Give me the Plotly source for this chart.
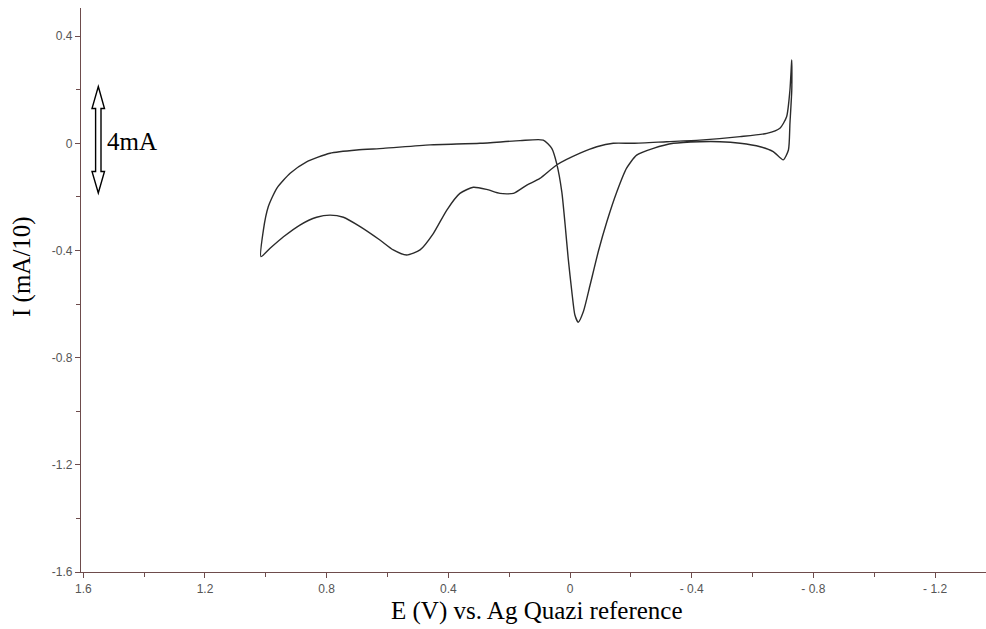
import plotly.graph_objects as go

# Cyclic voltammogram (one closed loop)
E_V = [1.016, 1.008, 0.992, 0.964, 0.920, 0.866, 0.789, 0.701, 0.614, 0.460,
       0.296, 0.164, 0.088, 0.060, 0.044, 0.027, 0.016, 0.006, -0.006, -0.016,
       -0.027, -0.044, -0.066, -0.093, -0.121, -0.154, -0.186, -0.219, -0.274, -0.340,
       -0.427, -0.493, -0.559, -0.625, -0.668, -0.701, -0.718, -0.723, -0.729, -0.729,
       -0.723, -0.712, -0.690, -0.647, -0.559, -0.427, -0.318, -0.208, -0.142, -0.088,
       -0.033, 0.044, 0.099, 0.142, 0.186, 0.230, 0.274, 0.318, 0.362, 0.405,
       0.449, 0.493, 0.537, 0.581, 0.625, 0.690, 0.745, 0.789, 0.833, 0.888,
       0.942, 0.986, 1.016]
I_mA10 = [-0.423, -0.324, -0.237, -0.168, -0.112, -0.069, -0.037, -0.025, -0.019, -0.006,
          0.000, 0.010, 0.012, -0.019, -0.075, -0.181, -0.305, -0.429, -0.554, -0.641,
          -0.668, -0.628, -0.529, -0.404, -0.293, -0.181, -0.093, -0.044, -0.019, 0.000,
          0.006, 0.006, 0.000, -0.013, -0.031, -0.062, -0.025, 0.075, 0.199, 0.311,
          0.199, 0.099, 0.056, 0.037, 0.025, 0.012, 0.006, 0.000, 0.000, -0.013,
          -0.037, -0.081, -0.131, -0.156, -0.187, -0.187, -0.172, -0.164, -0.187, -0.249,
          -0.336, -0.398, -0.417, -0.398, -0.361, -0.311, -0.276, -0.268, -0.276, -0.305,
          -0.349, -0.392, -0.423]

x_tickvals = [1.6, 1.2, 0.8, 0.4, 0.0, -0.4, -0.8, -1.2]
x_ticktext = ["1.6", "1.2", "0.8", "0.4", "0", "- 0.4", "- 0.8", "- 1.2"]
y_tickvals = [0.4, 0.0, -0.4, -0.8, -1.2, -1.6]
y_ticktext = ["0.4", "0", "-0.4", "-0.8", "-1.2", "-1.6"]

AX = "#6e4c4c"
TICKFONT = dict(family="Liberation Sans, Arial", size=12, color="#555555")
SERIF = "Liberation Serif, Times New Roman"

fig = go.Figure()
fig.add_trace(go.Scatter(x=E_V, y=I_mA10, mode="lines",
                         line=dict(color="#2b2b2b", width=1.4, shape="spline", smoothing=0.6),
                         hoverinfo="skip", showlegend=False))

XR = [1.6076, -1.3675]
YR = [-1.6, 0.505]

fig.update_layout(
    width=986, height=629,
    margin=dict(l=81, r=0, t=8, b=57),
    paper_bgcolor="white", plot_bgcolor="white",
    showlegend=False,
    xaxis=dict(range=XR, showgrid=False, zeroline=False, showline=True, linecolor=AX, linewidth=1.2,
               ticks="outside", ticklen=5, tickcolor=AX, tickwidth=1.2,
               tickvals=x_tickvals, ticktext=x_ticktext, tickfont=TICKFONT,
               minor=dict(tickvals=[1.4, 1.0, 0.6, 0.2, -0.2, -0.6, -1.0], ticks="outside",
                          ticklen=4, tickcolor=AX, tickwidth=1.2)),
    yaxis=dict(range=YR, showgrid=False, zeroline=False, showline=True, linecolor=AX, linewidth=1.2,
               ticks="outside", ticklen=5, tickcolor=AX, tickwidth=1.2,
               tickvals=y_tickvals, ticktext=y_ticktext, tickfont=TICKFONT,
               minor=dict(tickvals=[0.2, -0.2, -0.6, -1.0, -1.4], ticks="outside",
                          ticklen=4, tickcolor=AX, tickwidth=1.2)),
)

# pixel -> data helpers for the scale-bar decoration
def ex(px):
    return XR[0] + (px - 81) / 905 * (XR[1] - XR[0])

def iy(py):
    return YR[1] - (py - 8) / 564 * (YR[1] - YR[0])

pts = [(98.3, 86.5), (104.5, 108.5), (101, 108.5), (101, 171.5), (104.5, 171.5), (98.3, 193),
       (92, 171.5), (95.6, 171.5), (95.6, 108.5), (92, 108.5)]
path = "M " + " L ".join(f"{ex(a):.5f},{iy(b):.5f}" for a, b in pts) + " Z"
fig.add_shape(type="path", path=path, xref="x", yref="y",
              line=dict(color="black", width=1.4), fillcolor="white")

fig.add_annotation(text="4mA", x=ex(105), y=iy(141), xref="x", yref="y",
                   xanchor="left", yanchor="middle", showarrow=False,
                   font=dict(family=SERIF, size=25, color="black"))
fig.add_annotation(text="E (V) vs. Ag Quazi reference", x=(537 - 81) / 905, y=(572 - 611) / 564,
                   xref="paper", yref="paper", xanchor="center", yanchor="middle", showarrow=False,
                   font=dict(family=SERIF, size=25, color="black"))
fig.add_annotation(text="I (mA/10)", x=(22 - 81) / 905, y=(572 - 266) / 564,
                   xref="paper", yref="paper", xanchor="center", yanchor="middle", showarrow=False,
                   textangle=-90, font=dict(family=SERIF, size=25, color="black"))

fig.write_html("out.html")
